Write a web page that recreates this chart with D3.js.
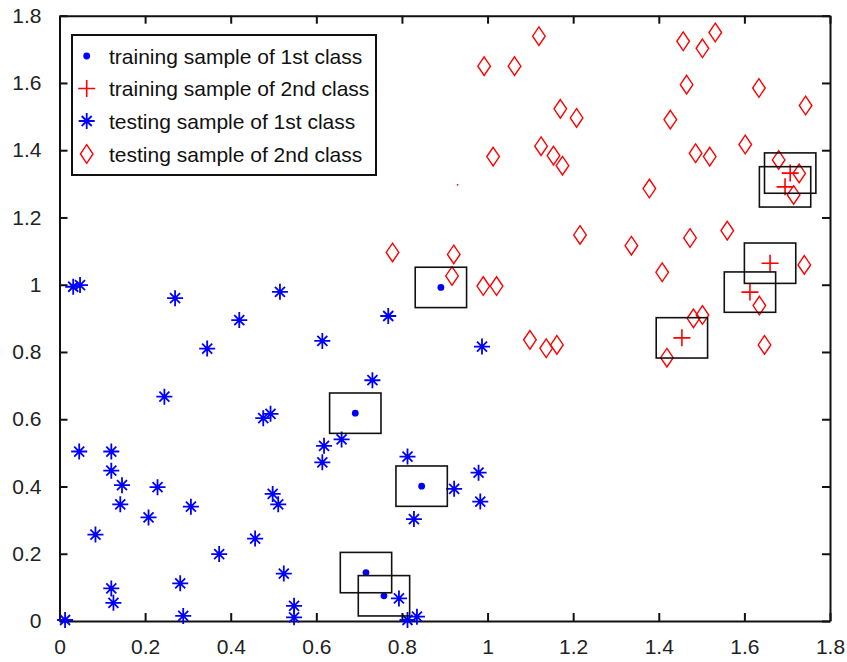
<!DOCTYPE html>
<html><head><meta charset="utf-8">
<script src="https://cdn.jsdelivr.net/npm/d3@7/dist/d3.min.js"></script>
<style>
html,body{margin:0;padding:0;background:#fff;}
text{font-family:"Liberation Sans",Arial,sans-serif;}
</style></head>
<body>
<svg id="chart" width="847" height="662"></svg>
<script>
// ---- data ----
const train1X = [0.891, 0.846, 0.691, 0.716, 0.758];
const train1Y = [0.992, 0.401, 0.618, 0.144, 0.075];
const train2X = [1.707, 1.695, 1.660, 1.613, 1.454];
const train2Y = [1.332, 1.291, 1.064, 0.978, 0.842];
const test1X = [0.032,0.048,0.270,0.420,0.515,0.768,0.987,0.979,0.983,0.922,
  0.013,0.046,0.121,0.121,0.146,0.142,0.084,0.208,0.229,0.245,
  0.345,0.307,0.373,0.282,0.289,0.121,0.126,0.457,0.476,0.493,
  0.498,0.511,0.524,0.548,0.548,0.614,0.731,0.618,0.614,0.659,
  0.813,0.828,0.793,0.813,0.835];
const test1Y = [0.994,0.999,0.960,0.895,0.979,0.907,0.816,0.441,0.355,0.393,
  0.003,0.504,0.504,0.447,0.404,0.347,0.257,0.308,0.398,0.667,
  0.810,0.340,0.199,0.112,0.015,0.097,0.054,0.245,0.603,0.616,
  0.378,0.347,0.141,0.045,0.011,0.833,0.716,0.521,0.472,0.540,
  0.489,0.303,0.067,0.003,0.013];
const test2X = [0.778,1.120,0.992,1.063,1.457,1.502,1.532,1.465,1.634,1.743,
  1.170,1.208,1.427,1.013,1.125,1.154,1.175,1.602,1.486,1.519,
  1.680,1.728,1.715,1.378,1.560,1.473,1.336,1.216,1.408,1.740,
  1.635,0.921,0.917,0.990,1.021,1.481,1.502,1.099,1.137,1.162,
  1.419,1.647];
const test2Y = [1.096,1.739,1.650,1.650,1.724,1.703,1.750,1.595,1.585,1.533,
  1.523,1.496,1.491,1.381,1.412,1.384,1.354,1.417,1.391,1.381,
  1.371,1.331,1.267,1.286,1.161,1.139,1.116,1.148,1.037,1.059,
  0.938,1.090,1.026,0.996,0.996,0.900,0.910,0.836,0.811,0.821,
  0.783,0.821];
const strayX = [0.930];
const strayY = [1.297];
const boxHalf = 0.06; // half-width of the neighbourhood boxes, data units
const xTicks = [0,0.2,0.4,0.6,0.8,1,1.2,1.4,1.6,1.8];
const yTicks = [0,0.2,0.4,0.6,0.8,1,1.2,1.4,1.6,1.8];
const legendLabels = ["training sample of 1st class","training sample of 2nd class",
  "testing sample of 1st class","testing sample of 2nd class"];

// ---- layout ----
const L = 59.5, R = 830, T = 15.7, B = 621;
const x = d3.scaleLinear().domain([0,1.8]).range([L,R]);
const y = d3.scaleLinear().domain([0,1.8]).range([B,T]);
const svg = d3.select("#chart");
const BLUE = "#0000ff", RED = "#ff0000";

const zip = (a,b) => a.map((v,i)=>[v,b[i]]);

// marker drawing helpers
function star(g, cx, cy){
  const a = 8, d = 5;
  g.append("path").attr("d",
    `M${cx-a},${cy}H${cx+a}M${cx},${cy-a}V${cy+a}M${cx-d},${cy-d}L${cx+d},${cy+d}M${cx-d},${cy+d}L${cx+d},${cy-d}`)
   .attr("stroke",BLUE).attr("stroke-width",1.8).attr("fill","none");
}
function plus(g, cx, cy){
  const a = 8.5;
  g.append("path").attr("d",`M${cx-a},${cy}H${cx+a}M${cx},${cy-a}V${cy+a}`)
   .attr("stroke",RED).attr("stroke-width",1.6).attr("fill","none");
}
function diamond(g, cx, cy){
  const w = 6.3, h = 9.3;
  g.append("path").attr("d",`M${cx},${cy-h}L${cx+w},${cy}L${cx},${cy+h}L${cx-w},${cy}Z`)
   .attr("stroke",RED).attr("stroke-width",1.4).attr("fill","none");
}
function dot(g, cx, cy){
  g.append("circle").attr("cx",cx).attr("cy",cy).attr("r",3.4).attr("fill",BLUE);
}

// ---- axes ----
const fmt = d => d3.format("")(d);
svg.append("g").attr("transform",`translate(0,${B})`)
  .call(d3.axisBottom(x).tickValues(xTicks).tickSize(-8).tickSizeOuter(0).tickPadding(18).tickFormat(fmt));
svg.append("g").attr("transform",`translate(0,${T})`)
  .call(d3.axisTop(x).tickValues(xTicks).tickSize(-8).tickSizeOuter(0).tickFormat(""));
svg.append("g").attr("transform",`translate(${L},0)`)
  .call(d3.axisLeft(y).tickValues(yTicks).tickSize(-8).tickSizeOuter(0).tickPadding(18).tickFormat(fmt));
svg.append("g").attr("transform",`translate(${R},0)`)
  .call(d3.axisRight(y).tickValues(yTicks).tickSize(-8).tickSizeOuter(0).tickFormat(""));
svg.selectAll(".domain").attr("stroke","#111").attr("stroke-width",2);
svg.selectAll(".tick line").attr("stroke","#111").attr("stroke-width",2);
svg.selectAll(".tick text").attr("font-size",21).attr("fill","#222")
  .attr("font-family","'Liberation Sans',Arial,sans-serif");

// ---- marks ----
const gm = svg.append("g");
zip(test1X,test1Y).forEach(([a,b])=>star(gm,x(a),y(b)));
zip(test2X,test2Y).forEach(([a,b])=>diamond(gm,x(a),y(b)));
zip(strayX,strayY).forEach(([a,b])=>gm.append("circle").attr("cx",x(a)).attr("cy",y(b)).attr("r",0.9).attr("fill",RED));
zip(train1X,train1Y).forEach(([a,b])=>dot(gm,x(a),y(b)));
zip(train2X,train2Y).forEach(([a,b])=>plus(gm,x(a),y(b)));
// neighbourhood boxes
zip(train1X.concat(train2X), train1Y.concat(train2Y)).forEach(([a,b])=>{
  gm.append("rect").attr("x",x(a-boxHalf)).attr("y",y(b+boxHalf))
    .attr("width",x(a+boxHalf)-x(a-boxHalf)).attr("height",y(b-boxHalf)-y(b+boxHalf))
    .attr("fill","none").attr("stroke","#111").attr("stroke-width",1.6);
});

// ---- legend ----
const lg = svg.append("g");
lg.append("rect").attr("x",72).attr("y",35).attr("width",304).attr("height",140)
  .attr("fill","#fff").attr("stroke","#111").attr("stroke-width",2);
const rowsY = [56, 88.5, 121, 154];
const drawers = [dot, plus, star, diamond];
legendLabels.forEach((t,i)=>{
  drawers[i](lg, 86.7, rowsY[i]);
  lg.append("text").attr("x",109).attr("y",rowsY[i]).attr("dy","0.36em")
    .attr("font-size",21).attr("fill","#111").text(t);
});
</script>
</body></html>
